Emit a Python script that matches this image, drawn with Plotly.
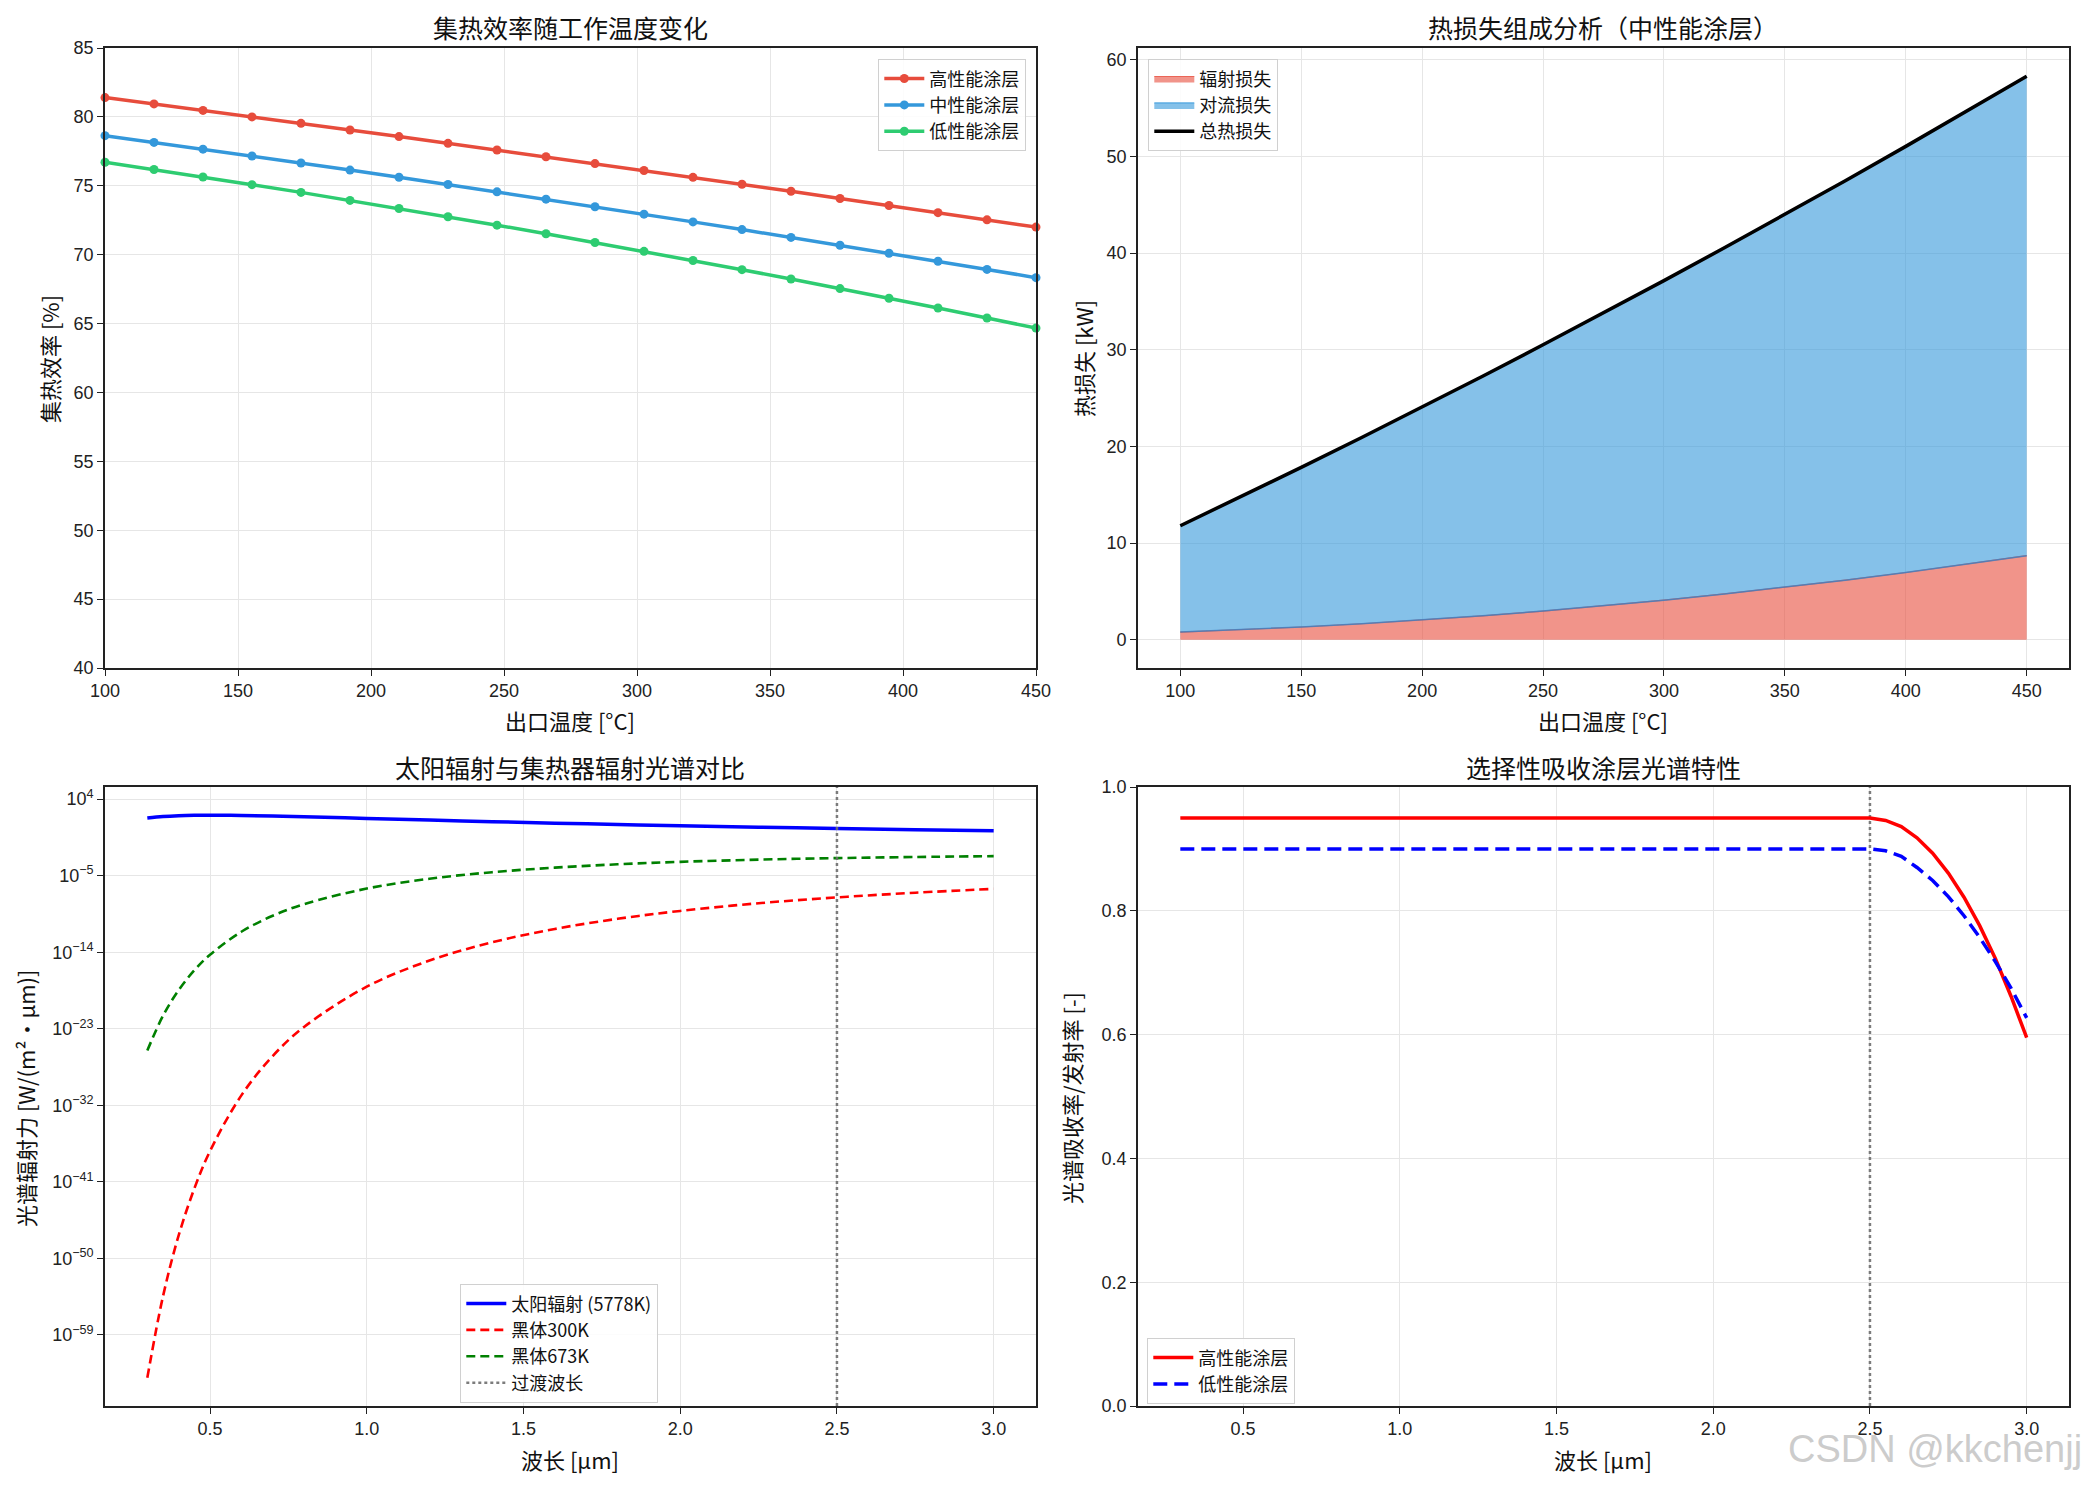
import plotly.graph_objects as go

# ---------------- data ----------------
# Top-left: collector efficiency vs outlet temperature
TEMP_EFF = [100.0, 118.42, 136.84, 155.26, 173.68, 192.11, 210.53, 228.95, 247.37, 265.79,
            284.21, 302.63, 321.05, 339.47, 357.89, 376.32, 394.74, 413.16, 431.58, 450.0]
EFF_HIGH = [81.40, 80.94, 80.47, 80.00, 79.53, 79.05, 78.57, 78.08, 77.60, 77.11,
            76.61, 76.11, 75.61, 75.11, 74.60, 74.08, 73.57, 73.05, 72.53, 72.00]
EFF_MID = [78.64, 78.15, 77.66, 77.16, 76.65, 76.14, 75.62, 75.09, 74.56, 74.03,
           73.48, 72.94, 72.38, 71.82, 71.25, 70.68, 70.10, 69.52, 68.93, 68.33]
EFF_LOW = [76.71, 76.18, 75.64, 75.08, 74.52, 73.94, 73.35, 72.75, 72.14, 71.52,
           70.88, 70.24, 69.58, 68.91, 68.23, 67.54, 66.84, 66.13, 65.40, 64.67]

# Top-right: heat loss composition (kW)
TEMP_LOSS = [100, 125, 150, 175, 200, 225, 250, 275, 300, 325, 350, 375, 400, 425, 450]
LOSS_RAD = [0.80, 1.04, 1.32, 1.66, 2.04, 2.48, 2.97, 3.51, 4.10, 4.74, 5.43, 6.17, 6.96, 7.81, 8.70]
LOSS_TOTAL = [11.80, 14.80, 17.84, 20.93, 24.07, 27.27, 30.52, 33.81, 37.16, 40.56,
              44.01, 47.50, 51.05, 54.66, 58.31]

# Bottom-left: spectral emissive power (log10 of value)
WL = [0.3, 0.35, 0.4, 0.45, 0.5, 0.6, 0.7, 0.8, 1.0, 1.2, 1.4, 1.6, 1.8, 2.0, 2.25, 2.5, 2.75, 3.0]
SUN_LOG10 = [1.785, 1.966, 2.064, 2.108, 2.121, 2.090, 2.019, 1.929, 1.732, 1.537, 1.353, 1.182,
             1.025, 0.878, 0.709, 0.554, 0.411, 0.278]
BB300_LOG10 = [-64.04, -54.46, -47.30, -41.78, -37.38, -30.83, -26.20, -22.78, -18.05, -14.98,
               -12.83, -11.26, -10.07, -9.14, -8.24, -7.55, -7.00, -6.55]
BB673_LOG10 = [-25.56, -21.47, -18.45, -16.12, -14.29, -11.59, -9.71, -8.35, -6.51, -5.36,
               -4.59, -4.05, -3.66, -3.37, -3.11, -2.93, -2.80, -2.70]
TRANSITION_WL = 2.5
LOG_TICK_EXP = [4, -5, -14, -23, -32, -41, -50, -59]

# Bottom-right: selective coating spectral absorptance / emittance
WL_COAT = [0.3, 2.5, 2.55, 2.6, 2.65, 2.7, 2.75, 2.8, 2.85, 2.9, 2.95, 3.0]
ABS_HIGH = [0.950, 0.950, 0.946, 0.936, 0.918, 0.893, 0.861, 0.822, 0.776, 0.723, 0.662, 0.595]
ABS_LOW = [0.900, 0.900, 0.897, 0.888, 0.870, 0.849, 0.823, 0.792, 0.757, 0.718, 0.675, 0.627]

# ---------------- figure ----------------
W, H = 2084, 1485
CJK = "Noto Sans CJK SC"
NUM = "Liberation Sans"
AX = "#222222"
GRID = "#e6e6e6"

fig = go.Figure()

# Top-left
for name, ys, col in [("高性能涂层", EFF_HIGH, "#e74c3c"),
                      ("中性能涂层", EFF_MID, "#3498db"),
                      ("低性能涂层", EFF_LOW, "#2ecc71")]:
    fig.add_trace(go.Scatter(x=TEMP_EFF, y=ys, mode="lines+markers", name=name,
                             line=dict(color=col, width=3.5),
                             marker=dict(color=col, size=9),
                             xaxis="x", yaxis="y", legend="legend", cliponaxis=False))

# Top-right
fig.add_trace(go.Scatter(x=TEMP_LOSS, y=LOSS_RAD, mode="lines", name="辐射损失",
                         fill="tozeroy", fillcolor="rgba(231,76,60,0.6)",
                         line=dict(color="rgba(231,76,60,0.8)", width=1.2),
                         xaxis="x2", yaxis="y2", legend="legend2"))
fig.add_trace(go.Scatter(x=TEMP_LOSS, y=LOSS_TOTAL, mode="lines", name="对流损失",
                         fill="tonexty", fillcolor="rgba(52,152,219,0.6)",
                         line=dict(color="rgba(52,152,219,0.8)", width=1.2),
                         xaxis="x2", yaxis="y2", legend="legend2"))
fig.add_trace(go.Scatter(x=TEMP_LOSS, y=LOSS_RAD, mode="lines", showlegend=False,
                         line=dict(color="rgba(52,130,200,0.8)", width=1.5),
                         xaxis="x2", yaxis="y2", hoverinfo="skip"))
fig.add_trace(go.Scatter(x=TEMP_LOSS, y=LOSS_TOTAL, mode="lines", name="总热损失",
                         line=dict(color="black", width=3.5),
                         xaxis="x2", yaxis="y2", legend="legend2"))

# Bottom-left
Y3_RANGE = [-67.35, 5.43]
fig.add_trace(go.Scatter(x=WL, y=[10 ** v for v in SUN_LOG10], mode="lines",
                         name="太阳辐射 (5778K)", line=dict(color="blue", width=3.5, shape="spline"),
                         xaxis="x3", yaxis="y3", legend="legend3"))
fig.add_trace(go.Scatter(x=WL, y=[10 ** v for v in BB300_LOG10], mode="lines",
                         name="黑体300K", line=dict(color="red", width=2.6, dash="9px,5px", shape="spline"),
                         xaxis="x3", yaxis="y3", legend="legend3"))
fig.add_trace(go.Scatter(x=WL, y=[10 ** v for v in BB673_LOG10], mode="lines",
                         name="黑体673K", line=dict(color="green", width=2.6, dash="9px,5px", shape="spline"),
                         xaxis="x3", yaxis="y3", legend="legend3"))
fig.add_trace(go.Scatter(x=[TRANSITION_WL, TRANSITION_WL],
                         y=[10 ** Y3_RANGE[0], 10 ** Y3_RANGE[1]], mode="lines",
                         name="过渡波长", line=dict(color="rgba(110,110,110,0.9)", width=2.5, dash="dot"),
                         xaxis="x3", yaxis="y3", legend="legend3"))

# Bottom-right
fig.add_trace(go.Scatter(x=[TRANSITION_WL, TRANSITION_WL], y=[0, 1], mode="lines",
                         showlegend=False, line=dict(color="rgba(110,110,110,0.9)", width=2.5, dash="dot"),
                         xaxis="x4", yaxis="y4"))
fig.add_trace(go.Scatter(x=WL_COAT, y=ABS_HIGH, mode="lines", name="高性能涂层",
                         line=dict(color="red", width=3.5),
                         xaxis="x4", yaxis="y4", legend="legend4"))
fig.add_trace(go.Scatter(x=WL_COAT, y=ABS_LOW, mode="lines", name="低性能涂层",
                         line=dict(color="blue", width=3.5, dash="14px,7px"),
                         xaxis="x4", yaxis="y4", legend="legend4"))

# ---------------- axes ----------------
XL = [105 / W, 1036 / W]
XR = [1138 / W, 2069 / W]
YT = [1 - 668 / H, 1 - 48 / H]
YB = [1 - 1406 / H, 1 - 787 / H]


def ax(domain, **kw):
    d = dict(domain=domain, showline=True, linecolor=AX, linewidth=1.6, mirror=True,
             ticks="outside", ticklen=6, tickwidth=1.3, tickcolor=AX,
             showgrid=True, gridcolor=GRID, gridwidth=1, zeroline=False, automargin=False,
             tickfont=dict(family=NUM, size=18, color=AX))
    d.update(kw)
    return d


wl_ticks = [0.5, 1.0, 1.5, 2.0, 2.5, 3.0]
fig.update_layout(
    xaxis=ax(XL, anchor="y", range=[100, 450], tickvals=list(range(100, 451, 50))),
    yaxis=ax(YT, anchor="x", range=[40, 85], tickvals=list(range(40, 86, 5))),
    xaxis2=ax(XR, anchor="y2", range=[82.5, 467.5], tickvals=list(range(100, 451, 50))),
    yaxis2=ax(YT, anchor="x2", range=[-2.92, 61.23], tickvals=list(range(0, 61, 10))),
    xaxis3=ax(XL, anchor="y3", range=[0.165, 3.135], tickvals=wl_ticks,
              ticktext=[f"{v:.1f}" for v in wl_ticks]),
    yaxis3=ax(YB, anchor="x3", type="log", range=Y3_RANGE,
              tickvals=[10 ** e for e in LOG_TICK_EXP],
              ticktext=[f"10<sup>{e}</sup>".replace("-", "−") for e in LOG_TICK_EXP]),
    xaxis4=ax(XR, anchor="y4", range=[0.165, 3.135], tickvals=wl_ticks,
              ticktext=[f"{v:.1f}" for v in wl_ticks]),
    yaxis4=ax(YB, anchor="x4", range=[0, 1], tickvals=[0, 0.2, 0.4, 0.6, 0.8, 1.0],
              ticktext=["0.0", "0.2", "0.4", "0.6", "0.8", "1.0"]),
)

leg_common = dict(bgcolor="rgba(255,255,255,0.85)", bordercolor="#d0d0d0", borderwidth=1.3,
                  font=dict(family=CJK, size=18, color="#111"), itemwidth=40,
                  tracegroupgap=0, traceorder="normal")
fig.update_layout(
    legend=dict(x=1026 / W, y=1 - 59 / H, xanchor="right", yanchor="top", **leg_common),
    legend2=dict(x=1148 / W, y=1 - 59 / H, xanchor="left", yanchor="top", **leg_common),
    legend3=dict(x=460 / W, y=1 - 1284 / H, xanchor="left", yanchor="top", **leg_common),
    legend4=dict(x=1147 / W, y=1 - 1338 / H, xanchor="left", yanchor="top", **leg_common),
)

# ---------------- text ----------------
ann = []


def text(x, y, s, size, angle=0, family=CJK, color="#111"):
    ann.append(dict(x=x / W, y=1 - y / H, xref="paper", yref="paper", text=s, showarrow=False,
                    textangle=angle, xanchor="center", yanchor="middle",
                    font=dict(family=family, size=size, color=color)))


text(570, 27, "集热效率随工作温度变化", 25)
text(1603, 27, "热损失组成分析（中性能涂层）", 25)
text(570, 767, "太阳辐射与集热器辐射光谱对比", 25)
text(1603, 767, "选择性吸收涂层光谱特性", 25)
text(570, 720, "出口温度 [°C]", 22)
text(1603, 720, "出口温度 [°C]", 22)
text(570, 1459, "波长 [μm]", 22)
text(1603, 1459, "波长 [μm]", 22)
text(49, 359, "集热效率 [%]", 22, angle=-90)
text(1083, 359, "热损失 [kW]", 22, angle=-90)
text(25, 1098, "光谱辐射力 [W/(m²·μm)]", 22, angle=-90)
text(1071, 1098, "光谱吸收率/发射率 [-]", 22, angle=-90)
ann.append(dict(x=1.0, y=1 - 1449 / H, xref="paper", yref="paper", text="CSDN @kkchenjj",
                showarrow=False, xanchor="right", yanchor="middle",
                font=dict(family=NUM, size=38, color="rgba(190,190,190,0.8)")))

fig.update_layout(annotations=ann, width=W, height=H,
                  margin=dict(l=0, r=0, t=0, b=0, pad=0, autoexpand=False),
                  paper_bgcolor="white", plot_bgcolor="white",
                  font=dict(family=CJK, color="#111"))

fig.write_html("out.html")
